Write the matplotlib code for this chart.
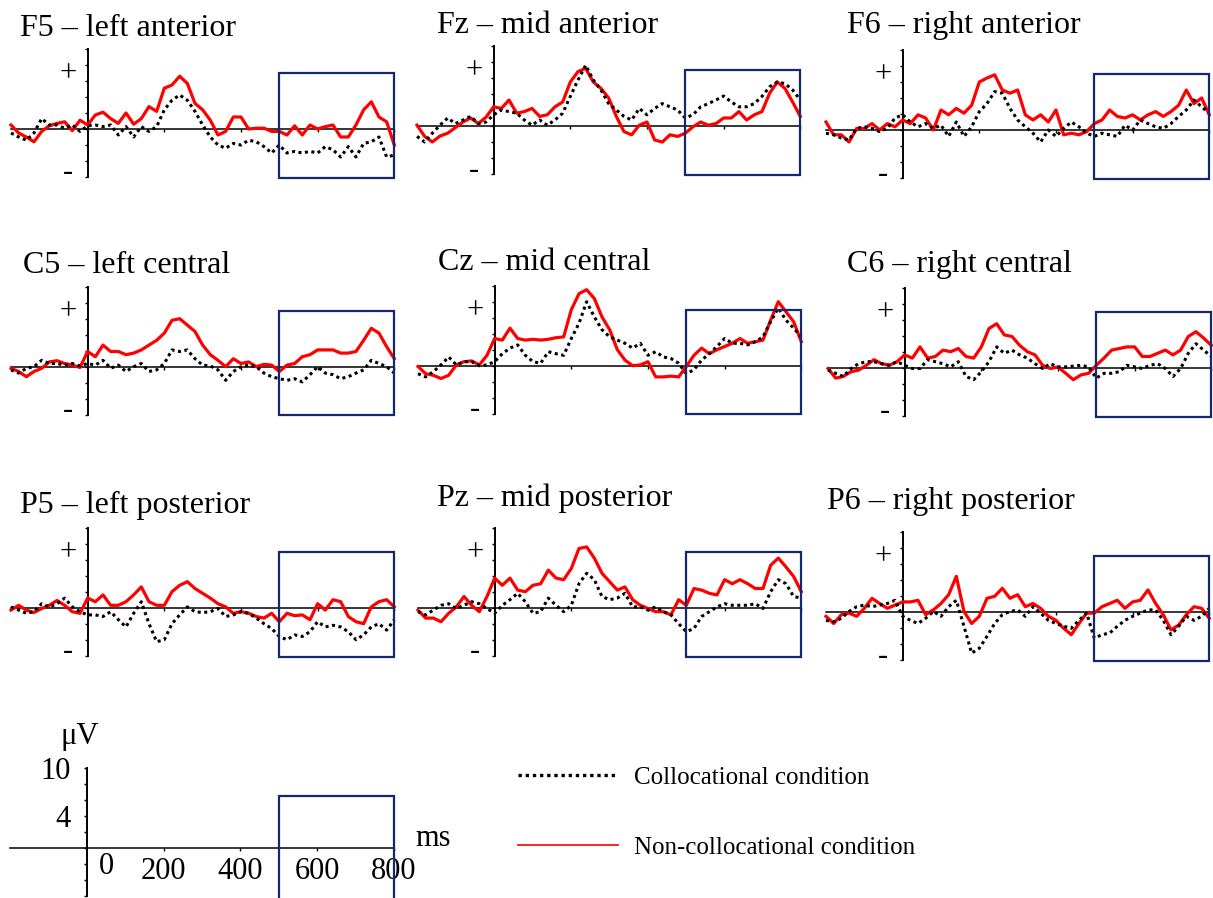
import matplotlib

matplotlib.use("Agg")
import matplotlib.pyplot as plt
import numpy as np
from matplotlib.lines import Line2D
from matplotlib.patches import Rectangle

plt.rcParams["font.family"] = ["Liberation Serif", "DejaVu Serif"]

# ERP grand averages (µV), sampled every 20 ms from -200 to 800 ms
TIME_MS = np.arange(-200, 801, 20)

F5_COLL = [-0.5, -1.0, -1.4, -0.5, 1.3, 0.5, 0.5, 0.1, 0.5, -0.3,
           0.4, 0.5, 0.3, 0.5, -0.75, 0.3, -1.0, 0.3, -0.3, 0.3,
           2.4, 3.6, 4.25, 3.6, 2.2, 0.5, -1.0, -2.0, -2.4, -1.8,
           -2.0, -1.4, -1.6, -2.2, -3.0, -2.0, -3.0, -2.8, -3.0, -2.8,
           -3.0, -2.2, -2.6, -3.5, -2.2, -3.5, -1.8, -1.6, -1.0, -3.5,
           -3.25]
F5_NON = [0.5, -0.5, -1.0, -1.6, -0.3, 0.4, 0.7, 0.9, -0.2, 1.1,
          0.5, 1.75, 2.1, 1.3, 0.7, 2.0, 0.6, 1.3, 2.8, 2.2,
          5.1, 5.5, 6.6, 5.7, 3.2, 2.4, 1.1, -0.75, -0.3, 1.5,
          1.5, 0.0, 0.1, 0.1, -0.3, -0.3, -0.75, 0.4, -0.75, 0.5,
          0.0, 0.3, 0.5, -1.0, -1.0, 0.5, 2.4, 3.4, 1.5, 0.9,
          -2.0]

FZ_COLL = [-1.3, -2.0, -0.9, 0.1, 1.0, 0.3, 0.75, 1.2, 0.3, 0.5,
           1.4, 2.0, 1.8, 1.6, 0.75, 0.1, 0.75, 0.1, 0.75, 1.6,
           3.7, 5.75, 7.6, 5.75, 4.5, 2.8, 2.0, 1.2, 0.75, 2.2,
           1.4, 2.2, 2.8, 2.4, 2.0, 1.0, 1.4, 2.4, 2.8, 3.25,
           3.75, 3.0, 2.4, 2.4, 2.8, 3.7, 4.9, 5.5, 5.3, 4.5,
           3.25]
FZ_NON = [0.1, -1.3, -2.0, -1.25, -0.9, -0.2, 0.5, 1.0, 0.3, 1.1,
          2.4, 2.2, 3.25, 1.6, 1.8, 2.2, 1.2, 1.4, 2.4, 3.0,
          5.5, 6.8, 7.2, 5.5, 4.7, 3.5, 1.2, -0.7, -1.1, 0.1,
          0.5, -1.75, -2.0, -1.1, -1.3, -0.9, -0.1, 0.5, 0.1, 0.3,
          1.0, 1.0, 1.8, 0.75, 1.4, 1.8, 4.1, 5.5, 4.7, 3.0,
          1.2]

F6_COLL = [-0.4, -0.6, -1.0, -1.25, 0.2, 0.4, 0.2, -0.2, 0.2, 1.5,
           1.9, 1.0, 0.4, 0.8, 0.2, 0.6, -0.8, 1.0, -0.8, 0.4,
           2.3, 3.3, 4.8, 4.6, 2.7, 1.25, 0.4, -0.4, -1.5, 0.0,
           -0.8, 0.2, 1.0, 0.4, -0.4, -0.8, -0.4, -0.6, -0.8, 0.6,
           0.0, 1.25, 0.8, 0.4, 0.2, 0.8, 1.7, 2.5, 3.75, 2.9,
           2.1]
F6_NON = [1.0, -0.6, -0.6, -1.5, 0.2, 0.2, 0.8, 0.0, 0.8, 0.4,
          1.25, 0.8, 1.9, 1.5, 0.0, 2.5, 1.9, 2.7, 2.1, 3.1,
          6.0, 6.5, 6.9, 5.0, 4.6, 5.0, 1.9, 1.25, 1.9, 1.0,
          2.5, -0.6, -0.4, -0.6, -0.2, 0.8, 1.25, 2.5, 1.7, 1.5,
          1.9, 1.25, 1.9, 2.3, 1.7, 2.3, 3.1, 5.0, 3.3, 4.0,
          1.9]

C5_COLL = [-0.4, -0.8, -0.2, 0.0, 0.8, 0.4, 0.4, 0.2, 0.4, 0.1,
           0.4, 0.2, 0.8, -0.2, 0.2, -0.6, 0.0, 0.4, -0.6, -0.4,
           0.4, 2.1, 1.9, 2.1, 1.0, 0.2, 0.1, -0.4, -1.7, -0.6,
           0.0, 0.2, 0.0, -0.8, -1.25, -1.5, -1.7, -1.5, -1.9, -1.0,
           0.0, -0.8, -1.0, -1.5, -1.25, -0.8, -0.4, 0.8, 0.4, 0.0,
           -0.8]
C5_NON = [-0.2, -0.6, -1.25, -0.6, -0.2, 0.6, 0.75, 0.4, 0.2, -0.1,
          1.9, 1.25, 2.7, 1.9, 1.9, 1.5, 1.7, 2.1, 2.7, 3.3,
          4.2, 5.8, 6.0, 5.2, 4.4, 2.7, 1.5, 0.8, 0.0, 1.0,
          0.4, 0.6, 0.0, 0.3, 0.2, -0.6, 0.2, 0.4, 1.25, 1.5,
          2.1, 2.1, 2.1, 1.7, 1.7, 1.9, 3.3, 4.8, 4.2, 2.5,
          1.0]

CZ_COLL = [-1.0, -1.4, -0.75, 0.1, 1.1, 0.1, 0.5, 0.5, 0.0, 0.1,
           0.5, 1.5, 2.2, 2.6, 1.3, 0.5, 0.3, 1.75, 1.5, 1.3,
           3.4, 5.3, 8.0, 6.1, 4.5, 3.6, 3.2, 2.8, 2.2, 2.8,
           1.3, 1.75, 1.1, 0.9, 0.3, -1.0, -0.5, 0.7, 1.5, 2.4,
           3.4, 2.8, 2.8, 2.6, 3.0, 3.6, 5.5, 7.2, 5.7, 4.7,
           3.6]
CZ_NON = [-0.1, -1.0, -1.2, -1.6, -1.2, 0.1, 0.5, 0.6, 0.1, 1.3,
          3.4, 3.2, 4.7, 3.4, 3.2, 3.3, 3.2, 3.3, 3.5, 3.6,
          7.0, 9.0, 9.5, 8.4, 6.1, 4.5, 2.0, 0.7, 0.0, 0.1,
          0.5, -1.4, -1.4, -1.3, -1.4, -0.1, 1.3, 2.2, 1.5, 2.0,
          2.4, 2.8, 3.4, 2.8, 3.0, 3.2, 5.7, 8.0, 6.75, 5.5,
          3.0]

C6_COLL = [-0.3, -0.7, -1.1, -0.1, 0.5, 0.75, 0.75, 0.5, 0.3, 0.75,
           0.3, -0.1, -0.1, 1.0, 0.75, 0.5, 0.1, 0.75, -1.1, -1.5,
           -0.5, 0.75, 2.6, 1.8, 2.2, 1.6, 1.2, 0.5, -0.1, 0.5,
           0.1, 0.1, 0.2, 0.3, 0.1, -1.3, -0.7, -0.7, -0.5, 0.3,
           0.1, -0.1, 0.3, 0.5, -0.1, -1.1, -0.1, 1.8, 3.0, 2.2,
           1.4]
C6_NON = [-0.1, -1.3, -1.1, -0.5, -0.3, 0.3, 1.0, 0.5, 0.3, 0.75,
          1.6, 1.2, 2.6, 1.2, 1.4, 2.2, 2.0, 2.4, 1.4, 1.2,
          2.6, 4.9, 5.5, 4.1, 3.9, 2.8, 2.0, 1.6, 0.3, -0.1,
          0.1, -0.7, -1.5, -0.9, -0.7, 0.3, 1.2, 2.2, 2.4, 2.6,
          2.6, 1.4, 1.4, 1.8, 2.2, 1.6, 2.2, 3.9, 4.5, 3.7,
          2.8]

P5_COLL = [0.1, -0.3, -0.7, -0.5, 0.5, 0.1, 0.5, 1.2, 0.1, -0.5,
           -0.9, -0.9, -1.1, -0.5, -1.5, -2.4, -0.7, 0.75, -2.0, -4.25,
           -4.0, -2.0, -0.9, 0.1, -0.5, -0.6, -0.5, -0.1, -1.1, -0.9,
           -0.5, -0.7, -1.3, -2.0, -2.6, -3.6, -4.0, -3.4, -3.6, -3.0,
           -1.75, -2.4, -2.2, -2.4, -3.0, -4.0, -3.4, -2.4, -2.0, -2.8,
           -1.5]
P5_NON = [-0.3, 0.3, -0.3, -0.6, -0.1, 0.3, 0.9, 0.3, -0.5, -0.7,
          1.2, 0.75, 1.6, 0.3, 0.3, 0.75, 1.6, 2.6, 0.75, 0.3,
          0.3, 2.0, 2.8, 3.25, 2.4, 1.8, 1.2, 0.5, 0.1, -0.7,
          -0.5, -0.7, -1.1, -1.3, -0.7, -1.75, -0.7, -1.0, -0.9, -1.5,
          0.5, -0.3, 1.0, 0.75, -1.1, -1.75, -2.0, 0.1, 0.75, 1.0,
          0.1]

PZ_COLL = [-0.5, -0.9, -0.3, 0.3, 0.5, -0.1, 0.3, 0.75, 0.5, -0.1,
           -0.7, 0.3, 1.0, 1.8, 0.75, -0.7, -0.5, 1.2, 0.3, -0.5,
           0.3, 3.0, 4.3, 3.5, 1.4, 1.0, 1.2, 1.8, 0.1, 0.1,
           -0.3, 0.1, -0.5, -0.9, -2.0, -3.0, -2.6, -1.1, -0.5, 0.1,
           0.5, 0.3, 0.3, 0.3, 0.5, -0.1, 2.0, 3.5, 3.0, 1.4,
           1.2]
PZ_NON = [-0.3, -1.3, -1.3, -1.75, -0.7, 0.1, 1.4, 0.3, -0.5, 1.4,
          3.7, 2.8, 3.7, 2.2, 2.0, 2.8, 3.0, 4.7, 3.7, 3.5,
          4.9, 7.4, 7.6, 6.2, 4.3, 3.25, 2.2, 2.6, 1.0, 0.3,
          -0.1, -0.5, -0.5, -0.9, 1.0, 0.3, 2.4, 2.2, 1.8, 1.6,
          3.5, 3.0, 3.5, 3.0, 2.4, 2.4, 5.3, 6.2, 5.1, 3.9,
          2.0]

P6_COLL = [-1.0, -1.2, -0.75, 0.1, 0.7, 0.9, 0.7, 0.9, 1.1, 1.5,
           -0.5, -1.0, -1.4, -0.75, 0.1, -0.5, 0.7, 1.5, -1.75, -5.1,
           -4.5, -3.0, -1.4, -0.3, 0.1, 0.3, -0.5, 0.7, -0.1, -1.0,
           -1.4, -1.75, -2.0, -1.0, -0.1, -3.25, -2.8, -2.6, -1.75, -1.0,
           -0.5, -0.1, 0.3, 0.3, -1.0, -2.8, -1.75, -0.5, -1.0, -0.5,
           0.5]
P6_NON = [-0.5, -1.4, -0.3, -0.1, -0.5, 0.5, 1.75, 1.1, 0.5, 0.9,
          1.3, 1.3, 1.5, -0.3, 0.3, 1.1, 2.2, 4.5, 0.1, -1.4,
          -0.5, 1.75, 2.0, 3.0, 1.75, 2.2, 0.7, 1.1, 0.5, -0.5,
          -1.0, -2.0, -2.8, -1.4, -0.1, -0.1, 0.7, 1.1, 1.5, 0.5,
          1.3, 1.5, 2.8, 1.1, -0.3, -2.2, -1.6, -0.3, 0.7, 0.5,
          -0.75]

TITLES = ["F5 – left anterior", "Fz – mid anterior", "F6 – right anterior",
          "C5 – left central", "Cz – mid central", "C6 – right central",
          "P5 – left posterior", "Pz – mid posterior", "P6 – right posterior"]
COLLOCATIONAL = [F5_COLL, FZ_COLL, F6_COLL, C5_COLL, CZ_COLL, C6_COLL, P5_COLL, PZ_COLL, P6_COLL]
NON_COLLOCATIONAL = [F5_NON, FZ_NON, F6_NON, C5_NON, CZ_NON, C6_NON, P5_NON, PZ_NON, P6_NON]

WINDOW_MS = (500, 800)          # analysis window marked by the box
LEGEND_LABELS = ["Collocational condition", "Non-collocational condition"]
SCALE_X_LABELS = ["200", "400", "600", "800"]

# layout in pixels
FIG_W, FIG_H = 1213, 898
PX_PER_UV = 8.0
AX_W_PX = 383.3
PANEL_LEFT_PX = [11, 417, 826, 11, 418, 828, 11, 418, 826]
PANEL_ZERO_PX = [129, 126, 130, 366.7, 365.7, 367.7, 607.7, 607.7, 612.3]
TITLE_PX = [(20, 36), (437, 33), (847, 33), (23, 273), (438, 270), (847, 272),
            (20, 513), (437, 506), (827, 509)]

RED = "#ff0000"
BOX_COLOR = "#14286e"
DOTTED = (0, (1, 1.15))


def axes_rect(left_px: float, zero_px: float) -> list[float]:
    top_px = zero_px - 10 * PX_PER_UV
    bottom_px = zero_px + 6 * PX_PER_UV
    return [left_px / FIG_W, 1 - bottom_px / FIG_H, AX_W_PX / FIG_W, (bottom_px - top_px) / FIG_H]


def style_axes(ax) -> None:
    ax.set_xlim(-200, 800)
    ax.set_ylim(-6, 10)
    ax.patch.set_visible(False)
    for side in ("top", "right"):
        ax.spines[side].set_visible(False)
    ax.spines["left"].set_position(("data", 0))
    ax.spines["bottom"].set_position(("data", 0))
    ax.spines["left"].set_linewidth(1.4)
    ax.spines["bottom"].set_linewidth(1.1)
    ax.set_xticks([200, 400, 600, 800])
    ax.set_xticklabels([])
    ax.set_yticks(np.arange(-6, 11, 2))
    ax.set_yticklabels([])
    ax.tick_params(axis="x", direction="out", length=2.5, width=1.0)
    ax.tick_params(axis="y", direction="out", length=2.0, width=1.0)


def draw_window(ax, bottom: float, top: float) -> None:
    ax.add_patch(Rectangle((WINDOW_MS[0], bottom), WINDOW_MS[1] - WINDOW_MS[0], top - bottom,
                           fill=False, edgecolor=BOX_COLOR, linewidth=1.6, clip_on=False, zorder=5))


fig = plt.figure(figsize=(FIG_W / 100, FIG_H / 100), dpi=100)

for i, title in enumerate(TITLES):
    ax = fig.add_axes(axes_rect(PANEL_LEFT_PX[i], PANEL_ZERO_PX[i]))
    style_axes(ax)
    ax.plot(TIME_MS, NON_COLLOCATIONAL[i], color=RED, linewidth=2.3, zorder=3, clip_on=False)
    ax.plot(TIME_MS, COLLOCATIONAL[i], color="black", linewidth=2.2, linestyle=DOTTED, zorder=4,
            clip_on=False)
    draw_window(ax, -6.1, 7.0)
    ax.text(-52, 6.9, "+", ha="center", va="center", fontsize=22)
    ax.text(-52, -5.5, "-", ha="center", va="center", fontsize=22)
    tx, ty = TITLE_PX[i]
    fig.text(tx / FIG_W, 1 - ty / FIG_H, title, fontsize=23, ha="left", va="baseline")

# calibration axes: 10 µV / 800 ms
scale_ax = fig.add_axes(axes_rect(10.4, 848))
style_axes(scale_ax)
scale_ax.set_yticklabels(["" if v not in (4, 10) else str(v) for v in np.arange(-6, 11, 2)])
scale_ax.set_xticklabels(SCALE_X_LABELS)
scale_ax.tick_params(axis="y", labelsize=22, pad=10)
scale_ax.tick_params(axis="x", labelsize=22, pad=4)
draw_window(scale_ax, -7.0, 6.5)
scale_ax.text(50, -2.3, "0", ha="center", va="center", fontsize=22)
scale_ax.text(856, 1.25, "ms", ha="left", va="center", fontsize=22, clip_on=False)
scale_ax.text(-18, 13.9, "μV", ha="center", va="center", fontsize=22, clip_on=False)

handles = [
    Line2D([], [], color="black", linewidth=2.4, linestyle=DOTTED),
    Line2D([], [], color=RED, linewidth=1.2),
]
fig.legend(handles, LEGEND_LABELS, loc="upper left", bbox_to_anchor=(518 / FIG_W, 1 - 766 / FIG_H),
           frameon=False, fontsize=18, handlelength=4.0, handletextpad=0.64, labelspacing=1.92,
           borderpad=0, borderaxespad=0)

fig.savefig("out.png", dpi=100)
